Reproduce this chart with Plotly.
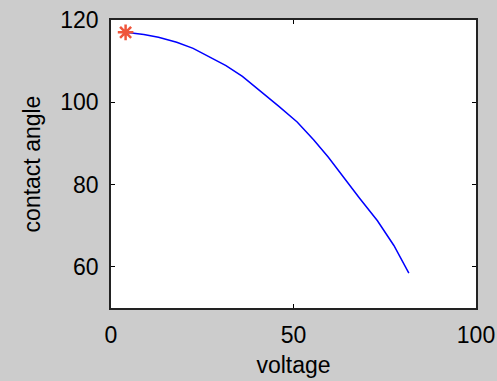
import plotly.graph_objects as go

voltage = [4, 9, 13, 18, 22.5, 27, 31.5, 36, 41.5, 46, 51, 55.5, 59.5, 63.5, 68, 73, 77.5, 81.6]
angle = [117, 116.5, 115.8, 114.6, 113.1, 111.1, 108.9, 106.3, 102.4, 99.0, 95.2, 90.9, 86.7, 82.0, 76.8, 71.2, 65.2, 58.5]
start_voltage = [4]
start_angle = [117]

x_ticks = [0, 50, 100]
y_ticks = [60, 80, 100, 120]

fig = go.Figure()
fig.add_trace(go.Scatter(x=voltage, y=angle, mode="lines",
                         line=dict(color="#0000ff", width=1.5), showlegend=False))
fig.add_trace(go.Scatter(x=start_voltage, y=start_angle, mode="markers",
                         marker=dict(symbol="asterisk-open", size=13,
                                     line=dict(color="#ff0000", width=2.5)),
                         showlegend=False))

font = dict(family="Liberation Sans, Arial, sans-serif", size=23, color="#000000")
fig.update_layout(
    width=497, height=381,
    paper_bgcolor="#cccccc", plot_bgcolor="#ffffff",
    margin=dict(l=111, r=21, t=20, b=73),
    font=font,
    xaxis=dict(range=[0, 100], tickvals=x_ticks, ticks="inside", ticklen=4,
               tickcolor="#000000", showline=True, linecolor="#222222", linewidth=1.5,
               mirror="ticks", showgrid=False, zeroline=False, automargin=False,
               ticklabelstandoff=6,
               title=dict(text="voltage", standoff=10, font=font)),
    yaxis=dict(range=[50, 120], tickvals=y_ticks, ticks="inside", ticklen=4,
               tickcolor="#000000", showline=True, linecolor="#222222", linewidth=1.5,
               mirror="ticks", showgrid=False, zeroline=False, automargin=False,
               ticklabelstandoff=6,
               title=dict(text="contact angle", standoff=13, font=font)),
)
fig.write_html("out.html", config={"displayModeBar": False},
               post_script="document.body.style.margin='0';document.body.style.background='#cccccc';")
